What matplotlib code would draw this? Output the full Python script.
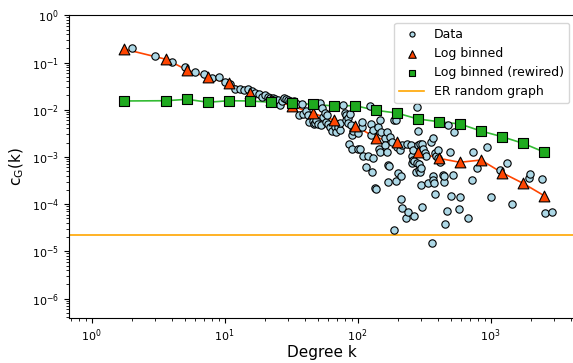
import numpy as np
import matplotlib
matplotlib.use("Agg")
import matplotlib.pyplot as plt

# clustering per degree (one dot per degree value)
deg = [2, 3, 4, 5, 6, 7, 8, 9, 10, 11, 12, 13, 14, 15, 16, 17, 18, 19, 20,
       21, 22, 23, 24, 25, 26, 27, 28, 29, 30, 31, 32, 33, 34, 35, 36,
       38, 39, 41, 42, 43, 46, 47, 48, 49, 50, 52, 53, 54, 55, 57, 58, 59, 60,
       62, 64, 68, 69, 71, 73, 74, 77, 80, 81, 82, 84, 85, 86, 88, 89, 90, 91,
       93, 100, 101, 104, 107, 108, 110, 116, 120, 124, 125, 127, 128, 130, 131,
       135, 138, 142, 144, 147, 148, 151, 160, 161, 166, 167, 168, 170, 172,
       175, 180, 187, 188, 194, 195, 197, 201, 208, 210, 212, 215, 217, 232,
       234, 238, 253, 254, 255, 261, 262, 264, 265, 275, 277, 280, 285, 286,
       287, 288, 293, 294, 297, 301, 302, 305, 309, 318, 327, 336, 358, 362,
       367, 368, 369, 372, 381, 382, 388, 400, 403, 416, 440, 446, 447, 457,
       472, 475, 494, 503, 521, 527, 575, 587, 670, 726, 733, 790, 940, 1000,
       1175, 1330, 1450, 1940, 1975, 2440, 2560, 2900]
cg = [0.200, 0.139, 0.101, 0.0815, 0.064, 0.057, 0.048, 0.049, 0.038, 0.035,
      0.028, 0.027, 0.026, 0.028, 0.025, 0.0226, 0.0215, 0.0188, 0.0205,
      0.0188, 0.018, 0.0176, 0.0168, 0.0161, 0.0123, 0.0153, 0.0174, 0.0168,
      0.0161, 0.0155, 0.0139, 0.015, 0.0123, 0.013, 0.0078,
      0.0129, 0.0080, 0.0094, 0.0077, 0.0056, 0.0058, 0.0051, 0.0053, 0.0062,
      0.0051, 0.0137, 0.0047, 0.0108, 0.0069, 0.0086, 0.0054, 0.0077, 0.0051,
      0.0044, 0.0035, 0.0042, 0.0034, 0.0042, 0.0037, 0.0053, 0.0124, 0.0085,
      0.0077, 0.0062, 0.0068, 0.0053, 0.0019, 0.0081, 0.0047, 0.0029, 0.0015,
      0.0036, 0.00146, 0.0032, 0.0015, 0.0042, 0.0056, 0.00102, 0.0006,
      0.00102, 0.012, 0.0051, 0.0029, 0.00049, 0.00093, 0.0037,
      0.00022, 0.00021, 0.0044, 0.0015, 0.0062, 0.0013, 0.0033, 0.0025,
      0.0018, 0.0034, 0.0013, 0.00029, 0.00067, 0.00064,
      0.0027, 0.0021, 0.006, 0.000028, 0.0062, 0.00031, 0.0016, 0.00045,
      0.0014, 0.00013, 0.00039, 0.0018, 0.000083, 0.000052,
      0.0019, 0.000069, 0.0018, 0.00102, 0.00073, 0.0014, 0.00087, 0.00083,
      0.000057, 0.00049, 0.00073, 0.0113, 0.0036, 0.0018,
      0.0007, 0.00053, 0.0019, 0.00049, 0.00025, 0.00057, 0.000086, 0.0019,
      0.0015, 0.0012, 0.00105, 0.00028, 0.0021, 0.000015,
      0.0025, 0.00039, 0.00033, 0.00028, 0.0012, 0.00016, 0.00102, 0.00093,
      0.0014, 0.00077, 0.00041, 0.00029, 0.0004, 0.000037,
      0.000073, 0.0047, 0.0013, 0.00015, 0.00041, 0.0034, 0.000078, 0.00014,
      0.000052, 0.00032, 0.0013, 0.00057, 0.0016, 0.00014,
      0.00054, 0.00076, 0.0001, 0.00035, 0.00043, 0.00034, 0.000064, 0.000068]

# log binned
bin_k = [1.75, 3.62, 5.21, 7.49, 10.8, 15.5, 22.3, 32.1, 46.1, 66.3, 95.4,
         137, 197, 284, 408, 587, 845, 1216, 1750, 2518]
bin_c = [0.193, 0.117, 0.0694, 0.0486, 0.0362, 0.0229, 0.0164, 0.0120,
         0.00839, 0.00605, 0.00458, 0.00255, 0.00210, 0.00125, 0.000933,
         0.000769, 0.000859, 0.000463, 0.000276, 0.000151]
bin_c_rw = [0.0153, 0.0155, 0.0166, 0.0144, 0.0155, 0.0153, 0.0144, 0.0137,
            0.0130, 0.0120, 0.0122, 0.0097, 0.0085, 0.00635, 0.00557,
            0.00498, 0.00354, 0.00268, 0.00194, 0.00127]

er_c = 2.2e-5

fig = plt.figure(figsize=(5.73, 3.63), dpi=100)
ax = fig.add_axes([68.7/573, 1-317.7/363, (575.3-68.7)/573, (317.7-15.3)/363])

ax.scatter(deg, cg, s=28, c='lightblue', edgecolors='black', linewidths=0.8,
           label='Data', zorder=2)
ax.plot(bin_k, bin_c, color='orangered', lw=1.2, zorder=1)
ax.scatter(bin_k, bin_c, marker='^', s=60, c='orangered', edgecolors='black',
           linewidths=0.8, label='Log binned', zorder=3)
ax.plot(bin_k, bin_c_rw, color='#33bb33', lw=1.2, zorder=1)
ax.scatter(bin_k, bin_c_rw, marker='s', s=48, c='#1faa1f', edgecolors='black',
           linewidths=0.8, label='Log binned (rewired)', zorder=3)
ax.axhline(er_c, color='orange', lw=1.2, label='ER random graph', zorder=1)

ax.set_xscale('log')
ax.set_yscale('log')
ax.set_xlim(0.672, 4325)
ax.set_ylim(3.92e-7, 1)
ax.tick_params(labelsize=8)
ax.set_xlabel('Degree k', fontsize=11, labelpad=1)
ax.set_ylabel(r'c$_\mathrm{G}$(k)', fontsize=11)

ax.legend(loc='upper right', bbox_to_anchor=(569/573, 1-22.7/363),
          bbox_transform=fig.transFigure, borderaxespad=0, fontsize=9,
          markerscale=0.7)

fig.savefig('out.png', dpi=100)
